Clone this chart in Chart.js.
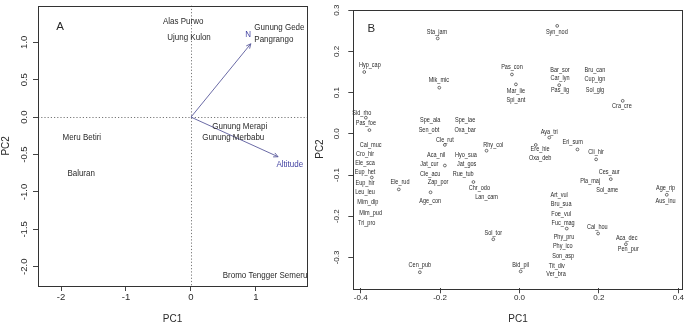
<!DOCTYPE html>
<html lang="en">
<head>
<meta charset="UTF-8">
<title>PCA biplots</title>
<script src="https://cdn.jsdelivr.net/npm/chart.js"></script>
<style>
  body{margin:0;background:#fff;}
  #wrap{position:relative;width:685px;height:325px;overflow:hidden;background:#fff;}
  #chartA{position:absolute;left:0;top:0;}
  #chartB{position:absolute;left:310px;top:0;}
</style>
</head>
<body>
<div id="wrap">
  <canvas id="chartA" width="310" height="325"></canvas>
  <canvas id="chartB" width="375" height="325"></canvas>
</div>
<script>
// ---- panel A: site scores ----
const siteNames = ['Alas Purwo','Ujung Kulon','Gunung Gede\nPangrango','Gunung Merapi','Gunung Merbabu','Meru Betiri','Baluran','Bromo Tengger Semeru'];
const sitePC1 = [-0.12, -0.03, 1.36, 0.75, 0.65, -1.68, -1.69, 1.14];
const sitePC2 = [1.28, 1.07, 1.12, -0.12, -0.27, -0.27, -0.75, -2.12];
// ---- panel A: loadings ----
const loadNames = ['N','Altitude'];
const loadPC1 = [0.92, 1.34];
const loadPC2 = [0.98, -0.53];
const loadLabelPC1 = [0.88, 1.52];
const loadLabelPC2 = [1.10, -0.63];
const aXTicks = [-2, -1, 0, 1];
const aYTicks = [-2, -1.5, -1, -0.5, 0, 0.5, 1];

// ---- panel B: species points ----
const ptPC1 = [-0.206,-0.391,-0.202,0.095,-0.019,-0.009,0.100,0.260,-0.387,-0.378,-0.188,-0.083,-0.188,-0.372,-0.116,-0.304,-0.224,0.075,0.041,0.146,0.193,0.230,0.371,0.119,0.198,0.268,-0.066,-0.251,0.003];
const ptPC2 = [0.2315,0.150,0.112,0.262,0.144,0.120,0.118,0.080,0.039,0.009,-0.027,-0.041,-0.077,-0.106,-0.117,-0.135,-0.142,-0.009,-0.027,-0.038,-0.062,-0.110,-0.148,-0.230,-0.242,-0.268,-0.256,-0.336,-0.334];
// ---- panel B: species labels ----
const spNames = ['Sta_jam','Hyp_cap','Mik_mic','Syn_nod','Pas_con','Mar_lie','Spi_ant','Bar_sor','Car_lyn','Pas_lig',
  'Bru_can','Cup_ign','Sol_gig','Cra_cre','Sid_rho','Pas_foe','Cal_muc','Cro_hir','Ele_sca','Eup_het',
  'Eup_hir','Leu_leu','Mim_dip','Mim_pud','Tri_pro','Ele_rud','Spe_ala','Spe_lae','Sen_obt','Oxa_bar',
  'Cle_rut','Rhy_col','Aca_nil','Hyo_sua','Jat_cur','Jat_gos','Cle_acu','Rue_tub','Zap_por','Chr_odo',
  'Lan_cam','Age_con','Aya_tri','Ere_hie','Oxa_deb','Eri_sum','Cli_hir','Ces_aur','Pla_maj','Sol_ame',
  'Age_rip','Aus_inu','Art_vul','Bru_sua','Foe_vul','Fuc_mag','Cal_hou','Aca_dec','Pen_pur','Phy_pru',
  'Phy_ico','Son_asp','Tit_div','Ver_bra','Bid_pil','Sol_tor','Cen_pub'];
const spPC1 = [-0.208,-0.377,-0.203,0.094,-0.019,-0.009,-0.009,0.102,0.102,0.102,
  0.190,0.190,0.190,0.258,-0.397,-0.387,-0.375,-0.389,-0.389,-0.389,
  -0.389,-0.389,-0.382,-0.375,-0.385,-0.301,-0.225,-0.137,-0.228,-0.137,
  -0.188,-0.066,-0.210,-0.135,-0.227,-0.133,-0.225,-0.142,-0.205,-0.101,
  -0.083,-0.225,0.075,0.052,0.052,0.134,0.193,0.226,0.178,0.221,
  0.368,0.368,0.100,0.105,0.105,0.110,0.196,0.270,0.274,0.112,
  0.109,0.110,0.094,0.092,0.003,-0.066,-0.251];
const spPC2 = [0.246,0.166,0.130,0.246,0.162,0.104,0.082,0.154,0.134,0.106,
  0.154,0.132,0.106,0.067,0.051,0.027,-0.027,-0.049,-0.071,-0.093,
  -0.119,-0.142,-0.167,-0.192,-0.216,-0.117,0.033,0.033,0.008,0.008,
  -0.015,-0.027,-0.053,-0.053,-0.073,-0.073,-0.097,-0.097,-0.118,-0.133,
  -0.154,-0.163,0.005,-0.038,-0.059,-0.021,-0.045,-0.093,-0.114,-0.136,
  -0.133,-0.164,-0.148,-0.170,-0.196,-0.218,-0.226,-0.254,-0.281,-0.252,
  -0.272,-0.297,-0.321,-0.341,-0.320,-0.240,-0.320];
const bXTicks = [-0.4, -0.2, 0, 0.2, 0.4];
const bYTicks = [-0.3, -0.2, -0.1, 0, 0.1, 0.2, 0.3];

const SANS = '"Liberation Sans",Arial,sans-serif';
const INK = '#2a2a2a';
const SQUEEZE = 0.84;  // the reference text is narrower than Liberation Sans

function pts(xs, ys){ return xs.map((v,i)=>({x:v, y:ys[i]})); }

// draw horizontally condensed text
function narrowText(ctx, t, x, y, align){
  ctx.save();
  ctx.translate(x, y);
  ctx.scale(SQUEEZE, 1);
  ctx.textAlign = align || 'center';
  ctx.fillText(t, 0, 0);
  ctx.restore();
}

function scalesFor(o){
  return {
    x:{type:'linear', position:'bottom', min:o.xr[0], max:o.xr[1],
      afterBuildTicks:s=>{ s.ticks = o.xt.map(v=>({value:v})); },
      afterFit:s=>{ s.height = o.xh; },
      grid:{display:true, drawOnChartArea:false, tickLength:5, color:'#444'},
      border:{display:false},
      ticks:{autoSkip:false, maxRotation:0, padding:o.xpad, color:INK,
        font:{family:SANS, size:o.tick}, callback:o.xfmt},
      title:{display:true, text:'PC1', color:INK, font:{family:SANS, size:10}, padding:{top:0, bottom:o.tpad}}
    },
    y:{type:'linear', position:'left', min:o.yr[0], max:o.yr[1],
      afterBuildTicks:s=>{ s.ticks = o.yt.map(v=>({value:v})); },
      afterFit:s=>{ s.width = o.yw; },
      grid:{display:true, drawOnChartArea:false, tickLength:5, color:'#444'},
      border:{display:false},
      ticks:{autoSkip:false, minRotation:90, maxRotation:90, crossAlign:'center', padding:o.ypad, color:INK,
        font:{family:SANS, size:o.tick}, callback:v=>v.toFixed(1)},
      title:{display:true, text:'PC2', color:INK, font:{family:SANS, size:10}, padding:{top:o.ytpad, bottom:0}}
    }
  };
}

function drawBox(chart){
  const {ctx, chartArea:a} = chart;
  ctx.save();
  ctx.strokeStyle = '#333';
  ctx.lineWidth = 1;
  ctx.strokeRect(Math.round(a.left)+0.5, Math.round(a.top)+0.5, Math.round(a.right-a.left), Math.round(a.bottom-a.top));
  ctx.restore();
}

// ---------------- panel A ----------------
const panelA = {
  id:'panelA',
  beforeDatasetsDraw(chart){
    const {ctx, chartArea:a, scales:{x,y}} = chart;
    const x0 = Math.round(x.getPixelForValue(0))+0.5, y0 = Math.round(y.getPixelForValue(0))+0.5;
    ctx.save();
    ctx.strokeStyle = '#555'; ctx.lineWidth = 0.8; ctx.setLineDash([1.2, 2]);
    ctx.beginPath();
    ctx.moveTo(x0, a.top); ctx.lineTo(x0, a.bottom);
    ctx.moveTo(a.left, y0); ctx.lineTo(a.right, y0);
    ctx.stroke();
    ctx.restore();
  },
  afterDatasetsDraw(chart){
    const {ctx, chartArea:a, scales:{x,y}} = chart;
    drawBox(chart);
    ctx.save();
    // site labels
    ctx.fillStyle = INK;
    ctx.font = '9.5px ' + SANS;
    ctx.textBaseline = 'middle';
    chart.getDatasetMeta(0).data.forEach((el, i)=>{
      const lines = siteNames[i].split('\n');
      const lh = 11.5;
      const w = Math.max(...lines.map(l=>ctx.measureText(l).width)) * SQUEEZE;
      lines.forEach((l, k)=>{
        const yy = el.y + (k - (lines.length-1)/2)*lh;
        if (lines.length > 1) narrowText(ctx, l, el.x - w/2, yy, 'left');
        else narrowText(ctx, l, el.x, yy, 'center');
      });
    });
    // arrow heads and loading labels
    ctx.strokeStyle = '#5a5a9c'; ctx.lineWidth = 0.9;
    loadNames.forEach((n, i)=>{
      const m = chart.getDatasetMeta(1+i).data;
      const p0 = m[0], p1 = m[1];
      const ang = Math.atan2(p1.y-p0.y, p1.x-p0.x);
      ctx.beginPath();
      [-0.45, 0.45].forEach(d=>{
        ctx.moveTo(p1.x, p1.y);
        ctx.lineTo(p1.x - 5*Math.cos(ang+d), p1.y - 5*Math.sin(ang+d));
      });
      ctx.stroke();
      ctx.fillStyle = '#3f3fa0';
      narrowText(ctx, n, x.getPixelForValue(loadLabelPC1[i]), y.getPixelForValue(loadLabelPC2[i]), 'center');
    });
    // panel letter
    ctx.fillStyle = INK;
    ctx.font = '11.5px ' + SANS;
    ctx.textAlign = 'center';
    ctx.fillText('A', a.left + 22, a.top + 21);
    ctx.restore();
  }
};

new Chart(document.getElementById('chartA'), {
  type:'scatter',
  data:{datasets:[
    {data:pts(sitePC1, sitePC2), pointRadius:0, pointHoverRadius:0},
    ...loadNames.map((n,i)=>({type:'line', data:[{x:0,y:0},{x:loadPC1[i], y:loadPC2[i]}],
      borderColor:'#5a5a9c', borderWidth:0.9, pointRadius:0, fill:false, showLine:true}))
  ]},
  options:{
    responsive:false, animation:false, devicePixelRatio:1,
    layout:{padding:{left:0, right:3, top:5, bottom:0}},
    plugins:{legend:{display:false}, tooltip:{enabled:false}},
    scales:scalesFor({xr:[-2.354, 1.785], yr:[-2.257, 1.489], xt:aXTicks, yt:aYTicks,
      xh:39, yw:38, xpad:1, ypad:0, tpad:0, ytpad:0, tick:9.5, xfmt:v=>String(v)})
  },
  plugins:[panelA]
});

// ---------------- panel B ----------------
const panelB = {
  id:'panelB',
  afterDatasetsDraw(chart){
    const {ctx, chartArea:a} = chart;
    drawBox(chart);
    ctx.save();
    ctx.fillStyle = INK;
    ctx.font = '6.6px ' + SANS;
    ctx.textBaseline = 'middle';
    chart.getDatasetMeta(1).data.forEach((el, i)=>{
      narrowText(ctx, spNames[i], el.x, el.y, 'center');
    });
    ctx.font = '11.5px ' + SANS;
    ctx.textAlign = 'center';
    ctx.fillText('B', a.left + 18, a.top + 19);
    ctx.restore();
  }
};

new Chart(document.getElementById('chartB'), {
  type:'scatter',
  data:{datasets:[
    {data:pts(ptPC1, ptPC2), pointRadius:1.4, pointHoverRadius:1.4, borderWidth:0.7,
      pointBorderColor:'#333', pointBackgroundColor:'rgba(0,0,0,0)'},
    {data:pts(spPC1, spPC2), pointRadius:0, pointHoverRadius:0}
  ]},
  options:{
    responsive:false, animation:false, devicePixelRatio:1,
    layout:{padding:{left:0, right:2.3, top:6, bottom:0}},
    plugins:{legend:{display:false}, tooltip:{enabled:false}},
    scales:scalesFor({xr:[-0.4186, 0.4111], yr:[-0.375, 0.301], xt:bXTicks, yt:bYTicks,
      xh:36.7, yw:43.3, xpad:0, ypad:5, tpad:0, ytpad:4, tick:8, xfmt:v=>v.toFixed(1)})
  },
  plugins:[panelB]
});
</script>
</body>
</html>
